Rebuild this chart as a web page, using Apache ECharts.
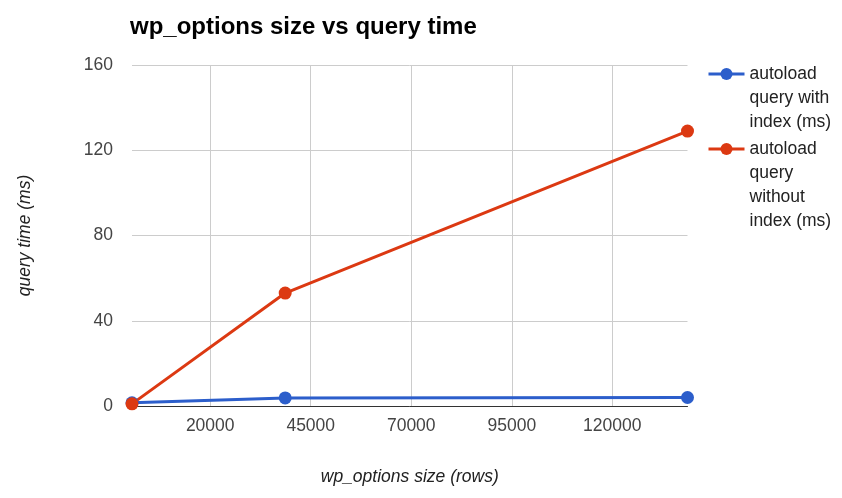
<!DOCTYPE html>
<html>
<head>
<meta charset="utf-8">
<script src="https://cdn.jsdelivr.net/npm/echarts@6/dist/echarts.min.js"></script>
<style>html,body{margin:0;padding:0;background:#fff}#c{width:842px;height:498px}</style>
</head>
<body>
<div id="c"></div>
<script>
var rowsX = [550, 38650, 138700];
var withIndex = [1.5, 3.8, 4.0];
var withoutIndex = [1.0, 53, 129];
var xTicks = [20000, 45000, 70000, 95000, 120000];
var seriesNames = ['autoload query with index (ms)', 'autoload query without index (ms)'];
var legendLines = {
  'autoload query with index (ms)': ['autoload', 'query with', 'index (ms)'],
  'autoload query without index (ms)': ['autoload', 'query', 'without', 'index (ms)']
};
var FONT = 'Liberation Sans, Arial, sans-serif';

function pairs(xs, ys) { return xs.map(function (x, i) { return [x, ys[i]]; }); }
// Prepend blank lines so the legend icon lines up with the first text line
function legendText(n) {
  var lines = legendLines[n];
  var pad = [];
  for (var i = 1; i < lines.length; i++) pad.push(' ');
  return pad.concat(lines).join('\n');
}

var legendBase = {
  orient: 'vertical', left: 707, padding: 0,
  itemWidth: 36, itemHeight: 15,
  formatter: legendText,
  lineStyle: { width: 3 },
  textStyle: { fontFamily: FONT, fontSize: 17.5, lineHeight: 24, color: '#222' }
};

var chart = echarts.init(document.getElementById('c'), null, { renderer: 'canvas' });
chart.setOption({
  animation: false,
  color: ['#2c5ecb', '#dc3912'],
  title: {
    text: 'wp_options size vs query time',
    left: 130, top: 15, padding: 0,
    textStyle: { fontFamily: FONT, fontSize: 24, fontWeight: 'bold', color: '#000' }
  },
  legend: [
    Object.assign({}, legendBase, { data: [seriesNames[0]], top: 14 }),
    Object.assign({}, legendBase, { data: [seriesNames[1]], top: 65 })
  ],
  grid: { left: 132, right: 154.5, top: 65, bottom: 92, containLabel: false },
  xAxis: {
    type: 'value', min: rowsX[0], max: rowsX[rowsX.length - 1],
    name: 'wp_options size (rows)', nameLocation: 'middle', nameGap: 62,
    nameTextStyle: { fontFamily: FONT, fontSize: 17.5, fontStyle: 'italic', color: '#222' },
    axisLine: { show: true, lineStyle: { color: '#333', width: 1 } },
    axisTick: { show: false, customValues: xTicks },
    axisLabel: {
      customValues: xTicks, margin: 11, fontFamily: FONT, fontSize: 17.5, color: '#444',
      formatter: function (v) { return String(v); }
    },
    splitLine: { show: true, lineStyle: { color: '#ccc', width: 1 } }
  },
  yAxis: {
    type: 'value', min: 0, max: 160, interval: 40,
    name: 'query time (ms)', nameLocation: 'middle', nameGap: 98,
    nameTextStyle: { fontFamily: FONT, fontSize: 17.5, fontStyle: 'italic', color: '#222' },
    axisLine: { show: false },
    axisTick: { show: false },
    axisLabel: { margin: 19, fontFamily: FONT, fontSize: 17.5, color: '#444' },
    splitLine: { show: true, lineStyle: { color: '#ccc', width: 1 } }
  },
  series: [
    {
      name: seriesNames[0], type: 'line', data: pairs(rowsX, withIndex),
      symbol: 'circle', symbolSize: 13, showSymbol: true, clip: false,
      lineStyle: { width: 3 }
    },
    {
      name: seriesNames[1], type: 'line', data: pairs(rowsX, withoutIndex),
      symbol: 'circle', symbolSize: 13, showSymbol: true, clip: false,
      lineStyle: { width: 3 }
    }
  ]
});
</script>
</body>
</html>
